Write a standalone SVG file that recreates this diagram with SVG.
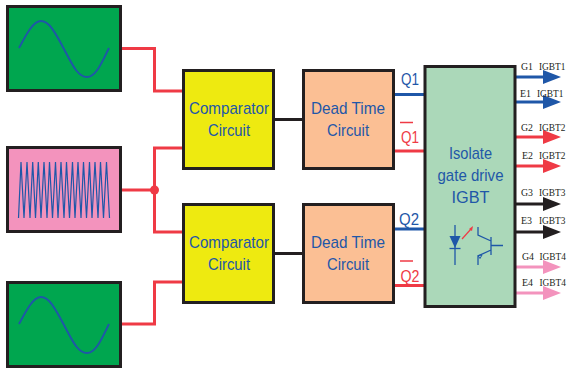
<svg xmlns="http://www.w3.org/2000/svg" width="567" height="370" viewBox="0 0 567 370">
<style>
.box{stroke:#231f20;stroke-width:3}
.gen{fill:#00a64f}
.pink{fill:#f393bd}
.cmp{fill:#eeea10}
.dead{fill:#fbbf94}
.drv{fill:#abd8b9}
.wave{fill:none;stroke:#1f57a8;stroke-width:2}
.tri{fill:none;stroke:#1f57a8;stroke-width:1.2}
.red{fill:none;stroke:#ef3a45;stroke-width:3}
.blue{fill:none;stroke:#1f57a8;stroke-width:3}
.blk{fill:none;stroke:#231f20;stroke-width:3}
.pk{fill:none;stroke:#f393bd;stroke-width:3}
.t{font-family:"Liberation Sans",Arial,sans-serif;font-size:17px;fill:#1f57a8;text-anchor:middle}
.s{font-family:"Liberation Serif","Times New Roman",serif;font-size:11px;fill:#231f20}
.sym{fill:none;stroke:#1f57a8;stroke-width:1.3}
</style>
<defs>
<marker id="hb" markerUnits="userSpaceOnUse" markerWidth="18" markerHeight="14" refX="0" refY="7" orient="auto"><path d="M0 0L18 7L0 14Z" fill="#1f57a8"/></marker>
<marker id="hr" markerUnits="userSpaceOnUse" markerWidth="18" markerHeight="14" refX="0" refY="7" orient="auto"><path d="M0 0L18 7L0 14Z" fill="#ef3a45"/></marker>
<marker id="hk" markerUnits="userSpaceOnUse" markerWidth="18" markerHeight="14" refX="0" refY="7" orient="auto"><path d="M0 0L18 7L0 14Z" fill="#231f20"/></marker>
<marker id="hp" markerUnits="userSpaceOnUse" markerWidth="18" markerHeight="14" refX="0" refY="7" orient="auto"><path d="M0 0L18 7L0 14Z" fill="#f393bd"/></marker>
</defs>
<g id="connectors">
<path class="red" d="M121 48.500H154.500V91H183"/>
<path class="red" d="M121 190H154.500"/>
<path class="red" d="M183 148H154.500V232H183"/>
<path class="red" d="M121 324H154.500V282H183"/>
<circle cx="154.500" cy="190" r="4.500" fill="#ef3a45"/>
<path class="blk" d="M274 119.500H303"/>
<path class="blk" d="M274 253.500H303"/>
<path class="blue" d="M393 94.500H425"/>
<path class="red" d="M393 151H425"/>
<path class="blue" d="M393 229H425"/>
<path class="red" d="M393 285.500H425"/>
<path class="blue" d="M515 77H543" marker-end="url(#hb)"/>
<path class="blue" d="M515 102H543" marker-end="url(#hb)"/>
<path class="red" d="M515 137H543" marker-end="url(#hr)"/>
<path class="red" d="M515 166H543" marker-end="url(#hr)"/>
<path class="blk" d="M515 204H543" marker-end="url(#hk)"/>
<path class="blk" d="M515 232H543" marker-end="url(#hk)"/>
<path class="pk" d="M515 267H543" marker-end="url(#hp)"/>
<path class="pk" d="M515 293H543" marker-end="url(#hp)"/>
</g>
<g id="sine-top">
<rect class="box gen" x="7.500" y="6.500" width="113" height="84"/>
<path class="wave" d="M19 48C26 35 33 21 41 21S55 32 64 49S78 77 87 77S102 62 109 48"/>
</g>
<g id="carrier">
<rect class="box pink" x="7.500" y="147.500" width="113" height="84"/>
<path class="tri" d="M18.500 218L21 162L24 218L27 162L30 218L32.700 162L35.500 218L38.300 162L41 218L44 162L47 218L49.500 162L52.500 218L55.500 162L58 218L61 162L64 218L66.500 162L69.500 218L72.500 162L75 218L78 162L81 218L83.500 162L86.500 218L89.500 162L92 218L95 162L98 218L100.500 162L103.500 218L106.500 162L109.500 218"/>
</g>
<g id="sine-bottom">
<rect class="box gen" x="7.500" y="282.500" width="113" height="84"/>
<path class="wave" d="M19 324C26 311 33 297 41 297S55 308 64 325S78 353 87 353S102 338 109 324"/>
</g>
<g id="comparator-1">
<rect class="box cmp" x="183.500" y="70.500" width="90" height="98"/>
<text class="t" x="229" y="114" textLength="80" lengthAdjust="spacingAndGlyphs">Comparator</text>
<text class="t" x="229" y="136" textLength="42" lengthAdjust="spacingAndGlyphs">Circuit</text>
</g>
<g id="comparator-2">
<rect class="box cmp" x="183.500" y="204.500" width="90" height="98"/>
<text class="t" x="229" y="248" textLength="80" lengthAdjust="spacingAndGlyphs">Comparator</text>
<text class="t" x="229" y="270" textLength="42" lengthAdjust="spacingAndGlyphs">Circuit</text>
</g>
<g id="dead-time-1">
<rect class="box dead" x="303.500" y="70.500" width="90" height="98"/>
<text class="t" x="348" y="114" textLength="74" lengthAdjust="spacingAndGlyphs">Dead Time</text>
<text class="t" x="348" y="136" textLength="42" lengthAdjust="spacingAndGlyphs">Circuit</text>
</g>
<g id="dead-time-2">
<rect class="box dead" x="303.500" y="204.500" width="90" height="98"/>
<text class="t" x="348" y="248" textLength="74" lengthAdjust="spacingAndGlyphs">Dead Time</text>
<text class="t" x="348" y="270" textLength="42" lengthAdjust="spacingAndGlyphs">Circuit</text>
</g>
<g id="isolate-driver">
<rect class="box drv" x="425" y="66.500" width="90" height="240"/>
<text class="t" x="470.500" y="159" textLength="43" lengthAdjust="spacingAndGlyphs">Isolate</text>
<text class="t" x="470.500" y="181" textLength="66" lengthAdjust="spacingAndGlyphs">gate drive</text>
<text class="t" x="470.500" y="203" textLength="38" lengthAdjust="spacingAndGlyphs">IGBT</text>
<path class="sym" d="M455 225V265"/>
<path d="M449.500 236H460.500L455 248Z" fill="#1f57a8"/>
<path class="sym" d="M449.500 248.500H460.500"/>
<path d="M462 239L471 229" fill="none" stroke="#ef3a45" stroke-width="1.2"/>
<path d="M469 229L473 226L472 231Z" fill="#ef3a45"/>
<path class="sym" d="M478 227V235L491 241M491 237V255M491 245.500H503M491 250L478 256V265"/>
<path d="M478 255.500L482 255L480 258.500Z" fill="none" stroke="#1f57a8"/>
</g>
<g id="labels">
<text class="t" x="410" y="85" textLength="18" lengthAdjust="spacingAndGlyphs">Q1</text>
<path d="M400 122.500H413" stroke="#ef3a45" stroke-width="1.500"/>
<text class="t" x="410" y="143" textLength="18" lengthAdjust="spacingAndGlyphs" style="fill:#ef3a45">Q1</text>
<text class="t" x="409" y="224.500" textLength="20" lengthAdjust="spacingAndGlyphs">Q2</text>
<path d="M400 261H413" stroke="#ef3a45" stroke-width="1.500"/>
<text class="t" x="410" y="281.500" textLength="19" lengthAdjust="spacingAndGlyphs" style="fill:#ef3a45">Q2</text>
<text class="s" x="521" y="70" textLength="12" lengthAdjust="spacingAndGlyphs">G1</text><text class="s" transform="translate(539 70) scale(.85 1)">IGBT1</text>
<text class="s" x="520" y="97" textLength="11" lengthAdjust="spacingAndGlyphs">E1</text><text class="s" transform="translate(537 97) scale(.85 1)">IGBT1</text>
<text class="s" x="521" y="131" textLength="12" lengthAdjust="spacingAndGlyphs">G2</text><text class="s" transform="translate(539 131) scale(.85 1)">IGBT2</text>
<text class="s" x="522" y="158.500" textLength="11" lengthAdjust="spacingAndGlyphs">E2</text><text class="s" transform="translate(539 158.500) scale(.85 1)">IGBT2</text>
<text class="s" x="521" y="195.500" textLength="12" lengthAdjust="spacingAndGlyphs">G3</text><text class="s" transform="translate(539 195.500) scale(.85 1)">IGBT3</text>
<text class="s" x="521" y="224" textLength="11" lengthAdjust="spacingAndGlyphs">E3</text><text class="s" transform="translate(539 224) scale(.85 1)">IGBT3</text>
<text class="s" x="522" y="260" textLength="12" lengthAdjust="spacingAndGlyphs">G4</text><text class="s" transform="translate(539.500 260) scale(.85 1)">IGBT4</text>
<text class="s" x="522" y="286" textLength="11" lengthAdjust="spacingAndGlyphs">E4</text><text class="s" transform="translate(539.500 286) scale(.85 1)">IGBT4</text>
</g>
</svg>
